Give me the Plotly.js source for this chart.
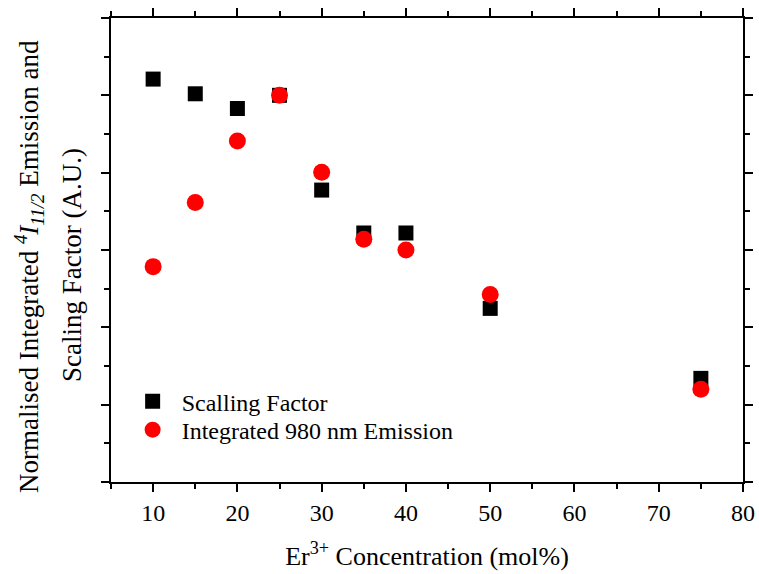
<!DOCTYPE html>
<html>
<head>
<meta charset="utf-8">
<script src="https://cdn.plot.ly/plotly-3.0.1.min.js"></script>
<style>
  html, body { margin: 0; padding: 0; background: #fff; }
  #chart { width: 759px; height: 574px; }
</style>
</head>
<body>
<div id="chart"></div>
<script>
// Er3+ concentration series (mol%)
var concentration = [10, 15, 20, 25, 30, 35, 40, 50, 75];
// Normalised scaling factor
var scalingFactor = [1.042, 1.004, 0.966, 1.0, 0.755, 0.644, 0.644, 0.449, 0.268];
// Normalised integrated 980 nm emission
var emission980 = [0.557, 0.723, 0.882, 1.0, 0.801, 0.628, 0.600, 0.485, 0.240];

var serif = 'Liberation Serif, Times New Roman, serif';

var traces = [
  {
    x: concentration, y: scalingFactor,
    type: 'scatter', mode: 'markers',
    name: 'Scalling Factor',
    legend: 'legend',
    marker: { symbol: 'square', size: 15, color: '#000000' }
  },
  {
    x: concentration, y: emission980,
    type: 'scatter', mode: 'markers',
    name: 'Integrated 980 nm Emission',
    legend: 'legend2',
    marker: { symbol: 'circle', size: 17, color: '#ff0000' }
  }
];

var axisCommon = {
  showgrid: false, zeroline: false,
  showline: true, linecolor: '#000', linewidth: 2,
  mirror: 'allticks',
  ticks: 'outside', ticklen: 8, tickwidth: 2, tickcolor: '#000'
};

var legendCommon = {
  x: 0.02, xanchor: 'left', yanchor: 'middle',
  bgcolor: 'rgba(0,0,0,0)', borderwidth: 0,
  font: { family: serif, size: 24, color: '#000' },
  itemwidth: 48
};

var layout = {
  width: 759, height: 574,
  margin: { l: 111, r: 16, t: 18, b: 92 },
  paper_bgcolor: '#fff', plot_bgcolor: '#fff',
  font: { family: serif, color: '#000', size: 24 },
  showlegend: true,
  legend: Object.assign({}, legendCommon, { y: 0.173 }),
  legend2: Object.assign({}, legendCommon, { y: 0.112 }),
  xaxis: Object.assign({}, axisCommon, {
    range: [5, 80], tick0: 0, dtick: 10,
    tickfont: { family: serif, size: 24, color: '#000' },
    minor: { dtick: 5, ticks: 'outside', ticklen: 5, tickwidth: 2, tickcolor: '#000' },
    title: { text: 'Er<sup>3+</sup> Concentration (mol%)', font: { family: serif, size: 26, color: '#000' }, standoff: 22 }
  }),
  yaxis: Object.assign({}, axisCommon, {
    range: [0, 1.2], tick0: 0, dtick: 0.2,
    showticklabels: false,
    minor: { dtick: 0.1, ticks: 'outside', ticklen: 5, tickwidth: 2, tickcolor: '#000' }
  }),
  annotations: [
    {
      xref: 'paper', yref: 'paper', x: 0, y: 0.5, xshift: -82, yshift: -17,
      xanchor: 'center', yanchor: 'middle', textangle: -90, showarrow: false,
      text: 'Normalised Integrated <i><sup>4</sup>I<sub>11/2</sub></i> Emission and',
      font: { family: serif, size: 27, color: '#000' }
    },
    {
      xref: 'paper', yref: 'paper', x: 0, y: 0.5, xshift: -39, yshift: -15,
      xanchor: 'center', yanchor: 'middle', textangle: -90, showarrow: false,
      text: 'Scaling Factor (A.U.)',
      font: { family: serif, size: 27, color: '#000' }
    }
  ]
};

Plotly.newPlot('chart', traces, layout, { displayModeBar: false, staticPlot: true });
</script>
</body>
</html>
